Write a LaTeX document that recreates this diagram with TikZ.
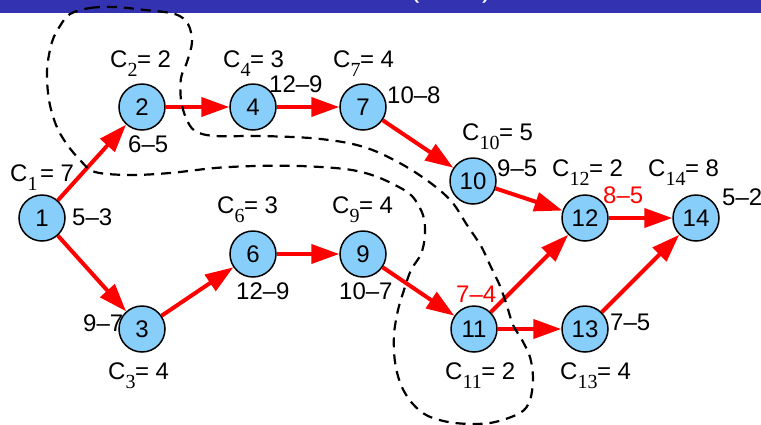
\documentclass[tikz,border=0pt]{standalone}
\usepackage{fontspec}
\setmainfont{Liberation Sans}
\newfontfamily\subfont{Liberation Serif}
\usetikzlibrary{arrows.meta}
\definecolor{nodeblue}{RGB}{135,206,250}
\definecolor{bannerblue}{RGB}{51,51,178}
\newcommand\subnum[1]{\raisebox{-9pt}{\subfont\fontsize{20}{24}\selectfont #1}\kern-0.5pt}
\begin{document}
\begin{tikzpicture}[x=1pt,y=-1pt,
  vert/.style={circle, draw=black, line width=1.5pt, fill=nodeblue, minimum size=46pt, inner sep=0pt, font=\fontsize{24}{29}\selectfont},
  lbl/.style={anchor=base west, inner sep=0pt, font=\fontsize{24}{29}\selectfont},
  redlbl/.style={lbl, text=red},
  act/.style={draw=red, line width=4pt, -{Triangle[length=28pt,width=19pt]}},
  cutline/.style={draw=black, line width=2.2pt, dash pattern=on 10pt off 7pt}]
\useasboundingbox (0,0) rectangle (761,424);
\fill[bannerblue] (0,0) rectangle (761,13.3);
\node[lbl, text=white, font=\fontsize{28}{34}\selectfont] (pa) at (410,-2.5) {(};
\node[lbl, text=white, font=\fontsize{28}{34}\selectfont] (pb) at (482,-2.5) {)};

% nodes
\node[vert] (n1) at (42,218) {1};
\node[vert] (n2) at (142,107) {2};
\node[vert] (n4) at (253,107) {4};
\node[vert] (n7) at (363,107) {7};
\node[vert] (n10) at (473,181) {10};
\node[vert] (n12) at (585,218) {12};
\node[vert] (n14) at (696,218) {14};
\node[vert] (n3) at (142,329) {3};
\node[vert] (n6) at (253,254) {6};
\node[vert] (n9) at (363,254) {9};
\node[vert] (n11) at (474,329) {11};
\node[vert] (n13) at (585,329) {13};

% arrows
\draw[act] (n1) -- (n2);
\draw[act] (n1) -- (n3);
\draw[act] (n2) -- (n4);
\draw[act] (n4) -- (n7);
\draw[act] (n7) -- (n10);
\draw[act] (n10) -- (n12);
\draw[act] (n12) -- (n14);
\draw[act] (n3) -- (n6);
\draw[act] (n6) -- (n9);
\draw[act] (n9) -- (n11);
\draw[act] (n11) -- (n12);
\draw[act] (n11) -- (n13);
\draw[act] (n13) -- (n14);

% capacity labels
\node[lbl] (c1) at (10,181) {C\subnum{1}\kern3pt= 7};
\node[lbl] (c2) at (110,67) {C\subnum{2}= 2};
\node[lbl] (c4) at (223,67) {C\subnum{4}= 3};
\node[lbl] (c7) at (333,67) {C\subnum{7}= 4};
\node[lbl] (c10) at (462,140) {C\subnum{10}= 5};
\node[lbl] (c12) at (552,176) {C\subnum{12}= 2};
\node[lbl] (c14) at (648,176) {C\subnum{14}= 8};
\node[lbl] (c6) at (217,213) {C\subnum{6}= 3};
\node[lbl] (c9) at (332,213) {C\subnum{9}= 4};
\node[lbl] (c3) at (108,379) {C\subnum{3}= 4};
\node[lbl] (c11) at (445,379) {C\subnum{11}= 2};
\node[lbl] (c13) at (560,379) {C\subnum{13}= 4};

% pair labels
\node[lbl] (p1) at (72,225) {5--3};
\node[lbl] (p2) at (128,152) {6--5};
\node[lbl] (p4) at (269,92) {12--9};
\node[lbl] (p7) at (387,103) {10--8};
\node[lbl] (p10) at (497,176) {9--5};
\node[redlbl] (p12) at (603,203) {8--5};
\node[lbl] (p14) at (722,205) {5--2};
\node[lbl] (p6) at (236,299) {12--9};
\node[lbl] (p9) at (339,299) {10--7};
\node[lbl] (p3) at (83,331) {9--7};
\node[redlbl] (p11) at (456,302) {7--4};
\node[lbl] (p13) at (610,330) {7--5};

% cut curve
\draw[cutline] plot[smooth cycle, tension=0.55] coordinates {
 (70,14) (90,8) (115,7) (145,10) (175,14) (188,24) (192,42) (187,62) (181,78)
 (181,100) (186,118) (195,131) (215,136) (260,136) (310,138) (348,143) (375,151)
 (405,166) (432,184) (452,202) (467,225) (481,246) (490,265) (500,286) (507,306)
 (513,325) (522,340) (530,357) (533,378) (530,400) (520,413) (490,423) (455,423)
 (428,416) (412,403) (401,385) (395,362) (394,335) (398,310) (404,290) (411,270)
 (421,254) (425,235) (423,215) (412,196) (395,185) (372,175) (345,169) (300,166)
 (255,166) (215,168) (170,173) (130,175) (95,172) (80,160) (66,143) (56,125)
 (49,100) (47,70) (52,42) (60,26)};
\end{tikzpicture}
\end{document}
